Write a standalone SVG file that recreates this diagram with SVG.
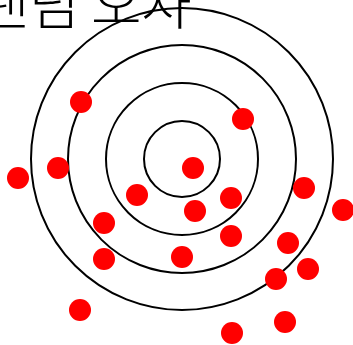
<svg xmlns="http://www.w3.org/2000/svg" width="353" height="345" viewBox="0 0 353 345">
<style>
.title{font-family:"Noto Sans CJK KR","Noto Sans",sans-serif;font-size:55px;font-weight:300;fill:#000}
.ring{fill:none;stroke:#000;stroke-width:2}
.dot{fill:#ff0000}
</style>
<rect width="353" height="345" fill="#fff"/>
<text class="title" x="-21 29 60 91 141" y="24">랜덤 오차</text>
<g id="target">
<circle class="ring" cx="182" cy="159" r="38"/>
<circle class="ring" cx="182" cy="159" r="76"/>
<circle class="ring" cx="182" cy="159" r="114"/>
<circle class="ring" cx="182" cy="159" r="151"/>
</g>
<g id="dots">
<circle class="dot" cx="81" cy="102" r="11"/>
<circle class="dot" cx="243" cy="119" r="11"/>
<circle class="dot" cx="193" cy="168" r="11"/>
<circle class="dot" cx="58" cy="168" r="11"/>
<circle class="dot" cx="18" cy="178" r="11"/>
<circle class="dot" cx="137" cy="195" r="11"/>
<circle class="dot" cx="231" cy="198" r="11"/>
<circle class="dot" cx="304" cy="188" r="11"/>
<circle class="dot" cx="343" cy="210" r="11"/>
<circle class="dot" cx="195" cy="211" r="11"/>
<circle class="dot" cx="104" cy="223" r="11"/>
<circle class="dot" cx="231" cy="236" r="11"/>
<circle class="dot" cx="288" cy="243" r="11"/>
<circle class="dot" cx="104" cy="259" r="11"/>
<circle class="dot" cx="182" cy="257" r="11"/>
<circle class="dot" cx="308" cy="269" r="11"/>
<circle class="dot" cx="276" cy="279" r="11"/>
<circle class="dot" cx="80" cy="310" r="11"/>
<circle class="dot" cx="285" cy="322" r="11"/>
<circle class="dot" cx="232" cy="333" r="11"/>
</g>
</svg>
